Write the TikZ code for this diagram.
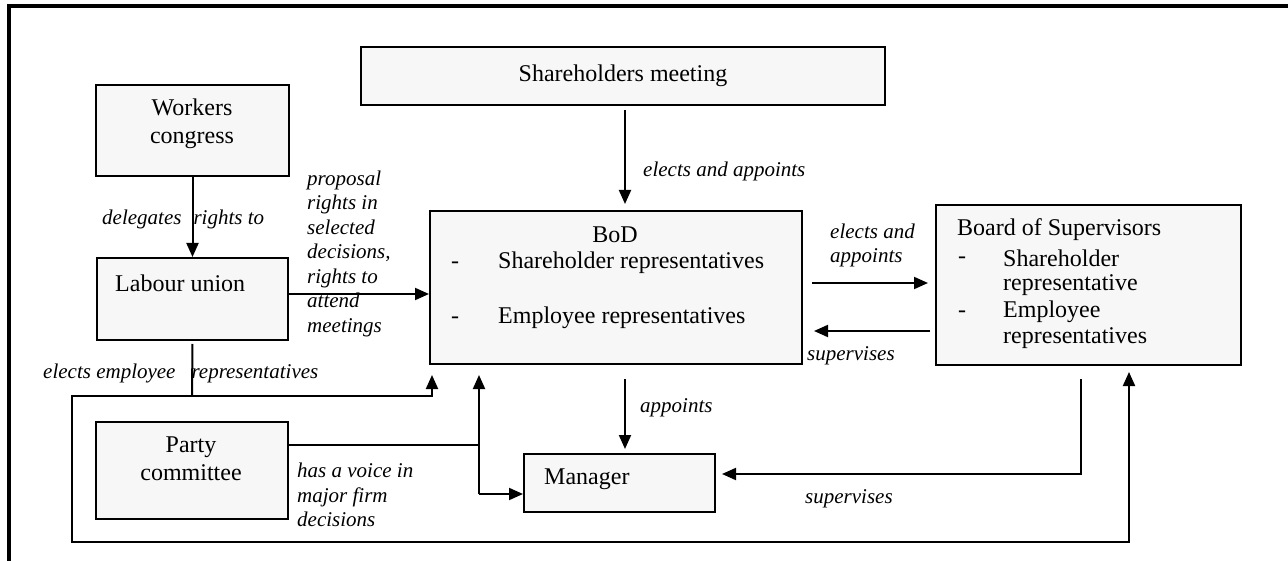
\documentclass[tikz,border=0pt]{standalone}
\usepackage{fontspec}
\setmainfont{Liberation Serif}
\usetikzlibrary{arrows.meta}
\definecolor{boxfill}{RGB}{247,247,247}
\begin{document}
\begin{tikzpicture}[x=1pt,y=-1pt,
  box/.style={draw, line width=2pt, fill=boxfill, inner sep=0pt, anchor=north west},
  txt/.style={font=\fontsize{24}{28}\selectfont, inner sep=0pt},
  lbl/.style={font=\fontsize{21}{24.5}\selectfont\itshape, inner sep=0pt, align=left},
  conn/.style={line width=2pt},
  arr/.style={conn, -{Triangle[length=14pt,width=12pt]}}]
\useasboundingbox (0,0) rectangle (1288,561);
% frame
\draw[line width=3.2pt] (9,561) -- (9,6) -- (1288,6);

% boxes
\node[box, minimum width=524pt, minimum height=58pt] (SM) at (360,46) {};
\node[box, minimum width=193pt, minimum height=91pt] (WC) at (95,84) {};
\node[box, minimum width=191pt, minimum height=82pt] (LU) at (96,257) {};
\node[box, minimum width=192pt, minimum height=97pt] (PC) at (95,421) {};
\node[box, minimum width=372pt, minimum height=153pt] (BoD) at (429,210) {};
\node[box, minimum width=305pt, minimum height=160pt] (BoS) at (935,204) {};
\node[box, minimum width=191pt, minimum height=58pt] (Mgr) at (523,453) {};

% box texts
\node[txt] (smT) at (SM.center) {Shareholders meeting};
\node[txt, align=center] (wcT) at (192,124) {Workers\\congress};
\node[txt, anchor=west] (luT) at (115,283) {Labour union};
\node[txt, align=center] (pcT) at (191,459) {Party\\committee};
\node[txt, anchor=west] (mgT) at (544,479) {Manager};
\node[txt] (bodT) at (615,235) {BoD};
\node[txt, anchor=west] (bodD1) at (451,265) {-};
\node[txt, anchor=west] (bodS) at (498,263) {Shareholder representatives};
\node[txt, anchor=west] (bodD2) at (451,320) {-};
\node[txt, anchor=west] (bodE) at (498,318) {Employee representatives};
\node[txt, anchor=west] (bosT) at (957,230) {Board of Supervisors};
\node[txt, anchor=west] (bosD1) at (958,260) {-};
\node[txt, anchor=west] (bosS) at (1003,258) {Shareholder};
\node[txt, anchor=west] (bosS2) at (1003,285) {representative};
\node[txt, anchor=west] (bosD2) at (958,314) {-};
\node[txt, anchor=west] (bosE) at (1003,312) {Employee};
\node[txt, anchor=west] (bosE2) at (1003,338) {representatives};

% labels
\node[lbl, anchor=west] (lDel) at (102,219) {delegates\hspace{12pt}rights to};
\node[lbl, anchor=west] (lElE) at (43,373) {elects employee\hspace{16pt}representatives};
\node[lbl, anchor=west] (lProp) at (307,253.5) {proposal\\rights in\\selected\\decisions,\\rights to\\attend\\meetings};
\node[lbl, anchor=west] (lEA1) at (643,171) {elects and appoints};
\node[lbl, anchor=west] (lEA2) at (830,245.5) {elects and\\appoints};
\node[lbl, anchor=west] (lSup1) at (807,356) {supervises};
\node[lbl, anchor=west] (lApp) at (640,408) {appoints};
\node[lbl, anchor=west] (lVoice) at (297,495) {has a voice in\\major firm\\decisions};
\node[lbl, anchor=west] (lSup2) at (805,499) {supervises};

% connectors
\draw[arr, shorten <=4pt, shorten >=6pt] ([xshift=2pt]SM.south) -- ([xshift=9pt]BoD.north);
\draw[arr, shorten <=14pt, shorten >=4pt] ([xshift=9pt]BoD.south) -- ([xshift=5.5pt]Mgr.north);
\draw[arr] (WC.south) -- (LU.north);
\draw[arr] ([yshift=5pt]LU.east) -- ([yshift=5pt]LU.east -| BoD.west);
\draw[arr, shorten <=9pt, shorten >=7pt] ([yshift=4.5pt]BoD.east) -- ([yshift=4.5pt]BoD.east -| BoS.west);
\draw[arr, shorten <=5pt, shorten >=11pt] ([yshift=-46pt]BoS.west) -- ([yshift=-46pt]BoS.west -| BoD.east);

\coordinate (J) at (192,396);
\draw[conn, shorten <=3pt] (LU.south) -- (J);
\draw[arr, shorten >=10pt] (J) -| ([xshift=3pt]BoD.south west);
\draw[arr, shorten >=6pt] (J) -- ++(-120,0) -- ++(0,146) -| ([xshift=40.5pt]BoS.south);

\coordinate (K) at (479,494);
\draw[conn] ([yshift=25.5pt]PC.east) -- ([yshift=25.5pt]PC.east -| K);
\draw[arr, shorten >=10pt] (K) -- (K |- BoD.south);
\draw[arr] (K) -- (K -| Mgr.west);

\draw[arr, shorten <=13pt, shorten >=6pt] ([xshift=-7.5pt]BoS.south) |- ([yshift=9pt]Mgr.east);
\end{tikzpicture}
\end{document}
